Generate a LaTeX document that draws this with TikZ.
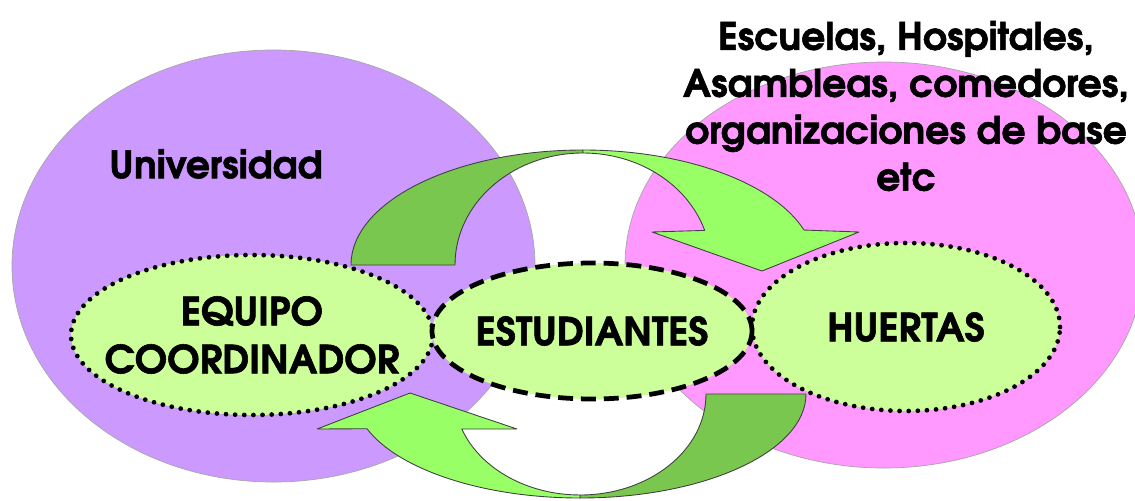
\documentclass[tikz,border=0pt]{standalone}
\usepackage{fontspec}
\setmainfont{TeX Gyre Adventor}[BoldFeatures={FakeBold=1.5}]
\usetikzlibrary{shapes.geometric}

\definecolor{lila}{HTML}{CC99FF}
\definecolor{rosa}{HTML}{FF99FF}
\definecolor{verdeclaro}{HTML}{CCFF99}
\definecolor{flechaclara}{HTML}{99FF66}
\definecolor{flechaoscura}{HTML}{7AC74F}

\tikzset{
	zona/.style={ellipse,draw=gray!70,thin,inner sep=0pt},
	grupo/.style={ellipse,fill=verdeclaro,inner xsep=-20pt,inner ysep=-5pt,align=center,
		font=\fontsize{22}{27.3}\selectfont\bfseries},
	punteado/.style={draw=black,line width=2.7pt,dash pattern=on 0pt off 5.2pt,line cap=round},
	rayado/.style={draw=black,line width=2.7pt,dash pattern=on 8.5pt off 4.5pt},
	rotulo/.style={align=center,font=\fontsize{21.5}{26.7}\selectfont\bfseries},
	flecha/.style={draw=black!75,line width=0.5pt,line join=round}
}

\begin{document}
\begin{tikzpicture}[x=0.2mm,y=-0.2mm]
	\useasboundingbox (0,0) rectangle (1135,500);
	\node[zona,fill=lila,minimum width=104.6mm,minimum height=86.4mm] (univ) at (273.5,266) {};	% universidad
	\node[zona,fill=rosa,minimum width=103.6mm,minimum height=81.2mm] (barrio) at (884,265) {};	% territorio
	\node[rotulo] (universidad) at (216,164) {Universidad};
	\node[rotulo] (lugares) at (906,106) {Escuelas, Hospitales,\\Asambleas, comedores,\\organizaciones de base\\etc};
	% flecha de arriba
	\filldraw[flecha,fill=flechaoscura] (351,265) arc[start angle=180,end angle=270,x radius=232,y radius=115]
		-- (583,153) arc[start angle=270,end angle=180,x radius=128,y radius=112] -- cycle;
	\filldraw[flecha,fill=flechaclara] (583,150) arc[start angle=270,end angle=342.3,x radius=232,y radius=115]
		-- (859,232) -- (762,271) -- (652,232) -- (704.7,230.4)
		arc[start angle=342,end angle=270,x radius=128,y radius=112] -- cycle;
	% flecha de abajo
	\filldraw[flecha,fill=flechaoscura] (806,394) arc[start angle=0,end angle=90,x radius=226,y radius=104]
		-- (580,495) arc[start angle=90,end angle=0,x radius=126,y radius=101] -- cycle;
	\filldraw[flecha,fill=flechaclara] (580,498) arc[start angle=90,end angle=160.5,x radius=226,y radius=104]
		-- (317,429) -- (410,393) -- (517,429) -- (461.8,429)
		arc[start angle=159.7,end angle=90,x radius=126,y radius=101] -- cycle;
	% grupos
	\node[grupo,punteado,minimum width=72.4mm,minimum height=32mm] (equipo) at (252,335) {EQUIPO\\COORDINADOR};
	\node[grupo,punteado,minimum width=61.6mm,minimum height=33.6mm] (huertas) at (906,327) {HUERTAS};
	\node[grupo,rayado,minimum width=64mm,minimum height=27.2mm] (estudiantes) at (592,331) {ESTUDIANTES};
\end{tikzpicture}
\end{document}
